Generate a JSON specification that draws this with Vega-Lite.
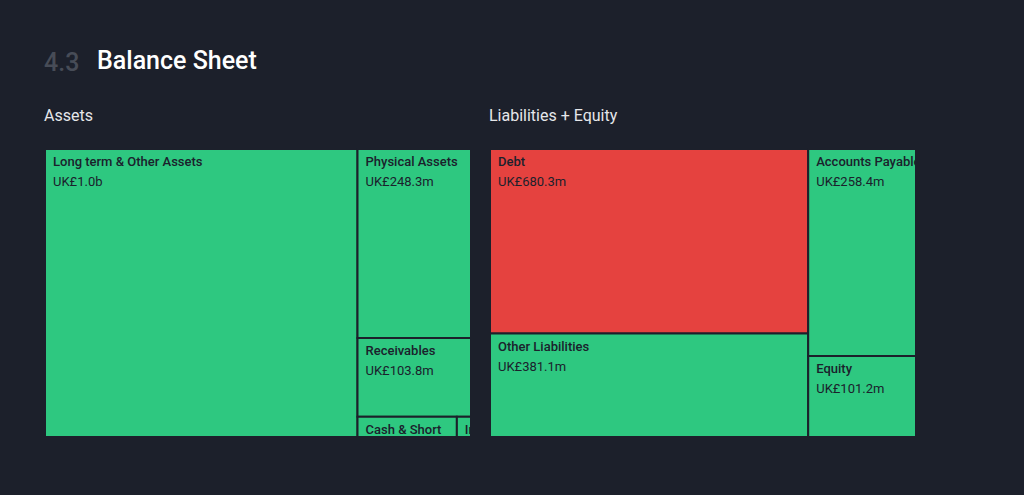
{
  "$schema": "https://vega.github.io/schema/vega-lite/v6.json",
  "background": "#1c202b",
  "padding": {"left": 44, "top": 49, "right": 107, "bottom": 62},
  "config": {"view": {"stroke": null}, "font": "Roboto"},
  "title": {"text": "4.3", "color": "#474c57", "fontSize": 25, "fontWeight": 500, "anchor": "start", "font": "Roboto", "offset": -27},
  "datasets": {
    "bs": [
      {"panel": "Assets", "name": "Long term & Other Assets", "label": "UK£1.0b", "value": 1042.4, "col": 1, "row": 1, "item": 1, "status": "good"},
      {"panel": "Assets", "name": "Physical Assets", "label": "UK£248.3m", "value": 248.3, "col": 2, "row": 1, "item": 1, "status": "good"},
      {"panel": "Assets", "name": "Receivables", "label": "UK£103.8m", "value": 103.8, "col": 2, "row": 2, "item": 1, "status": "good"},
      {"panel": "Assets", "name": "Cash & Short\nTerm Investments", "label": "UK£23.2m", "value": 23.2, "col": 2, "row": 3, "item": 1, "status": "good"},
      {"panel": "Assets", "name": "Inventory", "label": "UK£3.3m", "value": 3.3, "col": 2, "row": 3, "item": 2, "status": "good"},
      {"panel": "Liabilities + Equity", "name": "Debt", "label": "UK£680.3m", "value": 680.3, "col": 1, "row": 1, "item": 1, "status": "bad"},
      {"panel": "Liabilities + Equity", "name": "Other Liabilities", "label": "UK£381.1m", "value": 381.1, "col": 1, "row": 2, "item": 1, "status": "good"},
      {"panel": "Liabilities + Equity", "name": "Accounts Payable", "label": "UK£258.4m", "value": 258.4, "col": 2, "row": 1, "item": 1, "status": "good"},
      {"panel": "Liabilities + Equity", "name": "Equity", "label": "UK£101.2m", "value": 101.2, "col": 2, "row": 2, "item": 1, "status": "good"}
    ]
  },
  "vconcat": [
    {
      "title": {"text": "Balance Sheet", "color": "#ffffff", "fontSize": 25, "fontWeight": 500, "anchor": "start", "font": "Roboto", "dx": 53, "dy": -30},
      "spacing": 17,
      "hconcat": [
        {
          "title": {"text": "Assets", "fontSize": 16, "fontWeight": 400, "color": "#e6e7ea", "anchor": "start", "font": "Roboto", "offset": 24},
          "width": 426,
          "height": 288,
          "data": {"name": "bs"},
          "transform": [
            {"filter": "datum.panel === 'Assets'"},
            {"joinaggregate": [{"op": "sum", "field": "value", "as": "total"}]},
            {"joinaggregate": [{"op": "sum", "field": "value", "as": "colTotal"}], "groupby": ["col"]},
            {"joinaggregate": [{"op": "sum", "field": "value", "as": "rowTotal"}], "groupby": ["col", "row"]},
            {"window": [{"op": "sum", "field": "value", "as": "colCum"}], "sort": [{"field": "col"}], "frame": [null, 0]},
            {"window": [{"op": "sum", "field": "value", "as": "rowCum"}], "groupby": ["col"], "sort": [{"field": "row"}], "frame": [null, 0]},
            {"window": [{"op": "sum", "field": "value", "as": "itemCum"}], "groupby": ["col", "row"], "sort": [{"field": "item"}], "frame": [null, 0]},
            {"calculate": "(datum.colCum - datum.colTotal + (datum.itemCum - datum.value) / datum.rowTotal * datum.colTotal) / datum.total", "as": "x0"},
            {"calculate": "(datum.colCum - datum.colTotal + datum.itemCum / datum.rowTotal * datum.colTotal) / datum.total", "as": "x1"},
            {"calculate": "(datum.rowCum - datum.rowTotal) / datum.colTotal", "as": "y0"},
            {"calculate": "datum.rowCum / datum.colTotal", "as": "y1"}
          ],
          "layer": [
            {
              "mark": {"type": "rect", "stroke": "#1c202b", "strokeWidth": 2},
              "encoding": {
                "x": {"field": "x0", "type": "quantitative", "scale": {"domain": [0, 1], "nice": false}, "axis": null},
                "x2": {"field": "x1"},
                "y": {"field": "y0", "type": "quantitative", "scale": {"domain": [0, 1], "reverse": true, "nice": false}, "axis": null},
                "y2": {"field": "y1"},
                "color": {"field": "status", "type": "nominal", "scale": {"domain": ["good", "bad"], "range": ["#2ec880", "#e5423f"]}, "legend": null}
              }
            },
            {
              "mark": {"type": "text", "align": "left", "baseline": "alphabetic", "dx": 8, "dy": 17, "fontSize": 13, "fontWeight": 500, "color": "#1b212c", "clip": true, "lineBreak": "\n", "lineHeight": 20},
              "encoding": {
                "x": {"field": "x0", "type": "quantitative"},
                "y": {"field": "y0", "type": "quantitative"},
                "text": {"field": "name"}
              }
            },
            {
              "mark": {"type": "text", "align": "left", "baseline": "alphabetic", "dx": 8, "dy": 37, "fontSize": 13, "fontWeight": 400, "color": "#1b212c", "clip": true},
              "encoding": {
                "x": {"field": "x0", "type": "quantitative"},
                "y": {"field": "y0", "type": "quantitative"},
                "text": {"field": "label"}
              }
            }
          ]
        },
        {
          "title": {"text": "Liabilities + Equity", "fontSize": 16, "fontWeight": 400, "color": "#e6e7ea", "anchor": "start", "font": "Roboto", "offset": 24},
          "width": 426,
          "height": 288,
          "data": {"name": "bs"},
          "transform": [
            {"filter": "datum.panel === 'Liabilities + Equity'"},
            {"joinaggregate": [{"op": "sum", "field": "value", "as": "total"}]},
            {"joinaggregate": [{"op": "sum", "field": "value", "as": "colTotal"}], "groupby": ["col"]},
            {"joinaggregate": [{"op": "sum", "field": "value", "as": "rowTotal"}], "groupby": ["col", "row"]},
            {"window": [{"op": "sum", "field": "value", "as": "colCum"}], "sort": [{"field": "col"}], "frame": [null, 0]},
            {"window": [{"op": "sum", "field": "value", "as": "rowCum"}], "groupby": ["col"], "sort": [{"field": "row"}], "frame": [null, 0]},
            {"window": [{"op": "sum", "field": "value", "as": "itemCum"}], "groupby": ["col", "row"], "sort": [{"field": "item"}], "frame": [null, 0]},
            {"calculate": "(datum.colCum - datum.colTotal + (datum.itemCum - datum.value) / datum.rowTotal * datum.colTotal) / datum.total", "as": "x0"},
            {"calculate": "(datum.colCum - datum.colTotal + datum.itemCum / datum.rowTotal * datum.colTotal) / datum.total", "as": "x1"},
            {"calculate": "(datum.rowCum - datum.rowTotal) / datum.colTotal", "as": "y0"},
            {"calculate": "datum.rowCum / datum.colTotal", "as": "y1"}
          ],
          "layer": [
            {
              "mark": {"type": "rect", "stroke": "#1c202b", "strokeWidth": 2},
              "encoding": {
                "x": {"field": "x0", "type": "quantitative", "scale": {"domain": [0, 1], "nice": false}, "axis": null},
                "x2": {"field": "x1"},
                "y": {"field": "y0", "type": "quantitative", "scale": {"domain": [0, 1], "reverse": true, "nice": false}, "axis": null},
                "y2": {"field": "y1"},
                "color": {"field": "status", "type": "nominal", "scale": {"domain": ["good", "bad"], "range": ["#2ec880", "#e5423f"]}, "legend": null}
              }
            },
            {
              "mark": {"type": "text", "align": "left", "baseline": "alphabetic", "dx": 8, "dy": 17, "fontSize": 13, "fontWeight": 500, "color": "#1b212c", "clip": true, "lineBreak": "\n", "lineHeight": 20},
              "encoding": {
                "x": {"field": "x0", "type": "quantitative"},
                "y": {"field": "y0", "type": "quantitative"},
                "text": {"field": "name"}
              }
            },
            {
              "mark": {"type": "text", "align": "left", "baseline": "alphabetic", "dx": 8, "dy": 37, "fontSize": 13, "fontWeight": 400, "color": "#1b212c", "clip": true},
              "encoding": {
                "x": {"field": "x0", "type": "quantitative"},
                "y": {"field": "y0", "type": "quantitative"},
                "text": {"field": "label"}
              }
            }
          ]
        }
      ]
    }
  ]
}
